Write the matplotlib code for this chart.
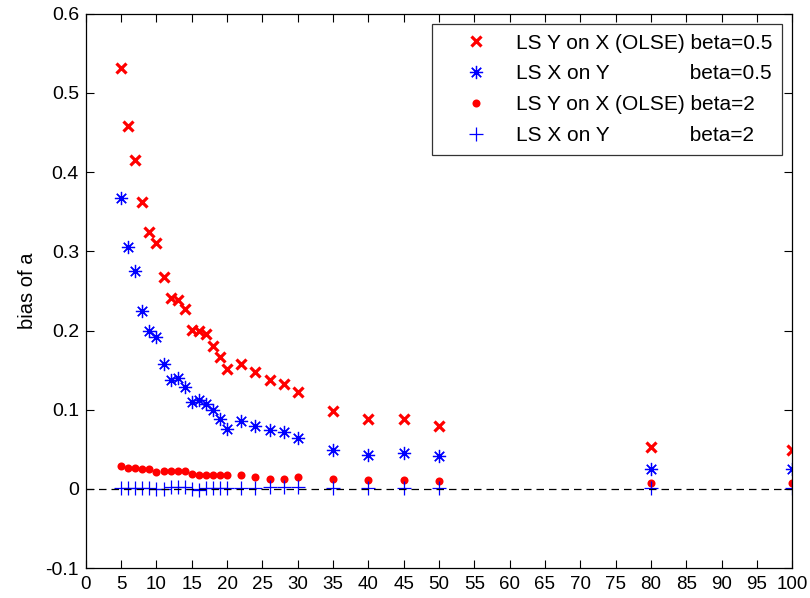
import matplotlib
matplotlib.use("Agg")
import matplotlib.pyplot as plt

plt.rcParams["font.family"] = ["Liberation Sans", "DejaVu Sans"]

# sample sizes n
n = [5, 6, 7, 8, 9, 10, 11, 12, 13, 14, 15, 16, 17, 18, 19, 20,
     22, 24, 26, 28, 30, 35, 40, 45, 50, 80, 100]

# bias of a, beta = 0.5
ols_b05 = [0.532, 0.458, 0.415, 0.362, 0.325, 0.311, 0.268, 0.241, 0.238, 0.227,
           0.201, 0.200, 0.195, 0.180, 0.166, 0.151, 0.158, 0.147, 0.137, 0.133,
           0.122, 0.098, 0.088, 0.088, 0.080, 0.053, 0.049]
xony_b05 = [0.367, 0.305, 0.275, 0.225, 0.199, 0.192, 0.158, 0.137, 0.140, 0.129,
            0.110, 0.112, 0.107, 0.100, 0.088, 0.076, 0.086, 0.080, 0.074, 0.072,
            0.064, 0.049, 0.043, 0.045, 0.041, 0.025, 0.025]

# bias of a, beta = 2
ols_b2 = [0.029, 0.027, 0.027, 0.025, 0.025, 0.021, 0.022, 0.023, 0.023, 0.023,
          0.019, 0.017, 0.017, 0.017, 0.017, 0.017, 0.017, 0.015, 0.013, 0.013,
          0.015, 0.013, 0.011, 0.011, 0.0095, 0.0075, 0.0075]
xony_b2 = [0.001, 0.001, 0.001, 0.001, 0.001, 0.000, 0.000, 0.002, 0.003, 0.003,
           0.000, -0.001, 0.001, 0.001, 0.001, 0.001, 0.001, 0.001, 0.002, 0.002,
           0.002, 0.001, 0.001, 0.001, 0.001, 0.001, 0.001]

labels = [
    "LS Y on X (OLSE) beta=0.5",
    "LS X on Y" + " " * 14 + "beta=0.5",
    "LS Y on X (OLSE) beta=2",
    "LS X on Y" + " " * 14 + "beta=2",
]

xticks = list(range(0, 101, 5))
yticks = [-0.1, 0.0, 0.1, 0.2, 0.3, 0.4, 0.5, 0.6]
ytick_labels = ["-0.1", "0", "0.1", "0.2", "0.3", "0.4", "0.5", "0.6"]

fig = plt.figure(figsize=(8.1, 5.98), dpi=100)
ax = fig.add_axes([0.106, 0.050, 0.872, 0.927])

ax.plot(n, ols_b05, ls="none", marker="x", color="red", ms=6.5, mew=2.3, label=labels[0])
ax.plot(n, xony_b05, ls="none", marker=(8, 2, 0), color="blue", ms=9.5, mew=0.9, label=labels[1])
ax.plot(n, ols_b2, ls="none", marker="o", color="red", ms=5.8, mew=0, label=labels[2])
ax.plot(n, xony_b2, ls="none", marker="+", color="blue", ms=10, mew=0.9, label=labels[3])

ax.plot([0, 100], [0, 0], color="black", ls=(0, (6, 4)), lw=0.9)

ax.set_xlim(0, 100)
ax.set_ylim(-0.1, 0.6)
ax.set_xticks(xticks)
ax.set_yticks(yticks)
ax.set_yticklabels(ytick_labels)
ax.tick_params(direction="in", length=6, width=0.8, labelsize=14,
               top=True, right=True, pad=5)
ax.tick_params(axis="x", labelsize=13.5, pad=6)
for s in ax.spines.values():
    s.set_linewidth(0.9)
ax.set_ylabel("bias of a", fontsize=14.5, labelpad=6)

leg = ax.legend(loc="upper right", fontsize=15, frameon=True, fancybox=False,
                edgecolor="black", borderaxespad=0.5, handletextpad=0.2,
                handlelength=3.4, labelspacing=0.57, borderpad=0.45)
leg.get_frame().set_linewidth(0.9)

fig.savefig("out.png", dpi=100, facecolor="white")
